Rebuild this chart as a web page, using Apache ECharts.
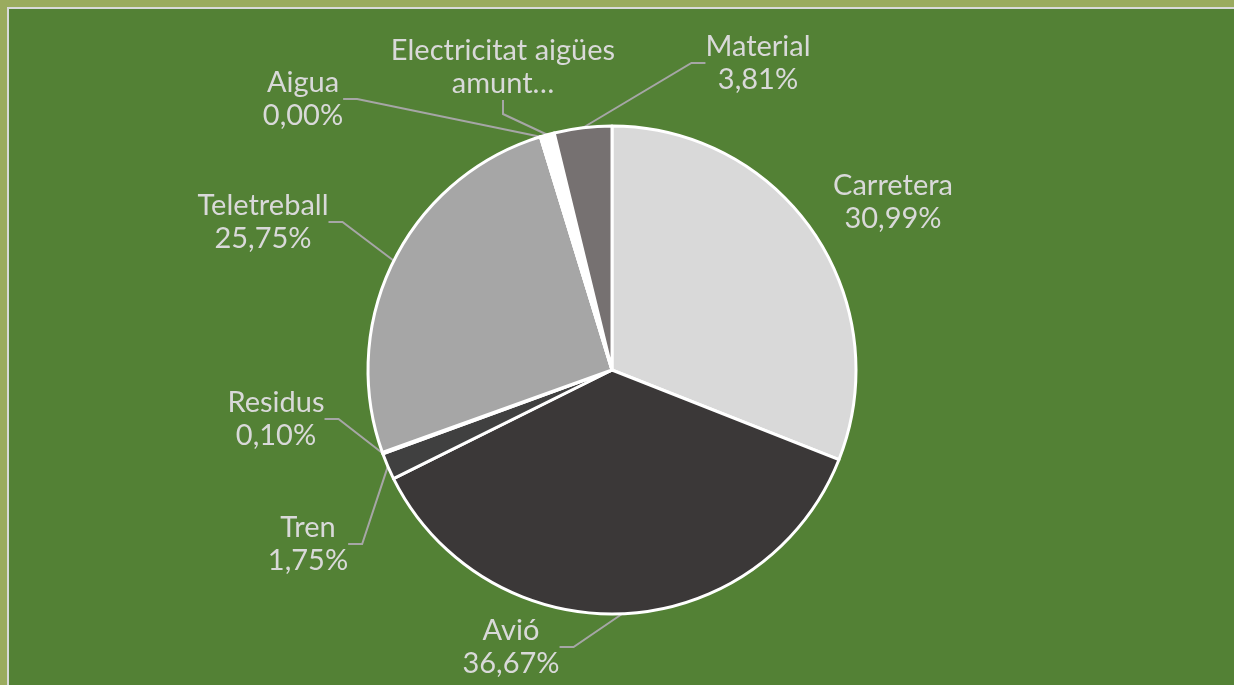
<!DOCTYPE html>
<html>
<head>
<meta charset="utf-8">
<script src="https://cdn.jsdelivr.net/npm/echarts@6/dist/echarts.min.js"></script>
<style>
  html, body { margin: 0; padding: 0; width: 1234px; height: 685px; overflow: hidden; background: #9aab5e; }
  #frame {
    position: absolute; left: 7px; top: 7px; right: 0; bottom: 0;
    background: #538135;
    border-left: 2px solid #d9d9d9;
    border-top: 2px solid #d9d9d9;
  }
  #chart { position: absolute; left: 0; top: 0; width: 1234px; height: 685px; }
</style>
</head>
<body>
<div id="frame"></div>
<div id="chart"></div>
<script>
// dades (percentatges)
var categories = ['Carretera', 'Avió', 'Tren', 'Residus', 'Teletreball', 'Aigua', 'Electricitat aigües amunt', 'Material'];
var values = [30.99, 36.67, 1.75, 0.10, 25.75, 0.00, 0.93, 3.81];
var colors = ['#d9d9d9', '#3b3838', '#404040', '#7f7f7f', '#a6a6a6', '#bfbfbf', '#ffffff', '#767171'];
// text que es mostra a l'etiqueta (Excel talla el nom llarg)
var labelTexts = [null, null, null, null, null, null, 'Electricitat aigües\namunt…', null];
// centre de cada etiqueta
var labelPos = [[893, 202], [511, 647], [308, 544], [276, 419], [263, 222], [303, 99], [503, 67], [758, 63]];

var chart = echarts.init(document.getElementById('chart'));

var pieData = categories.map(function (name, i) {
  var item = { name: name, value: values[i], itemStyle: { color: colors[i] } };
  if (i === 0) item.labelLine = { show: false };
  return item;
});

chart.setOption({
  animation: false,
  series: [
    {
      type: 'pie',
      center: [612, 370],
      radius: 244,
      startAngle: 90,
      clockwise: true,
      data: pieData,
      itemStyle: {
        borderColor: '#ffffff',
        borderWidth: 3
      },
      label: {
        show: true,
        color: '#d9d9d9',
        fontFamily: 'Lato',
        fontSize: 29,
        lineHeight: 33,
        align: 'center',
        formatter: function (p) {
          if (labelTexts[p.dataIndex]) return labelTexts[p.dataIndex];
          return p.name + '\n' + p.value.toFixed(2).replace('.', ',') + '%';
        }
      },
      labelLine: {
        show: true,
        length: 10,
        length2: 14,
        lineStyle: { color: '#a6a6a6', width: 2 }
      },
      labelLayout: function (params) {
        var pos = labelPos[params.dataIndex];
        return { x: pos[0], y: pos[1], align: 'center', verticalAlign: 'middle' };
      }
    }
  ]
});
</script>
</body>
</html>
